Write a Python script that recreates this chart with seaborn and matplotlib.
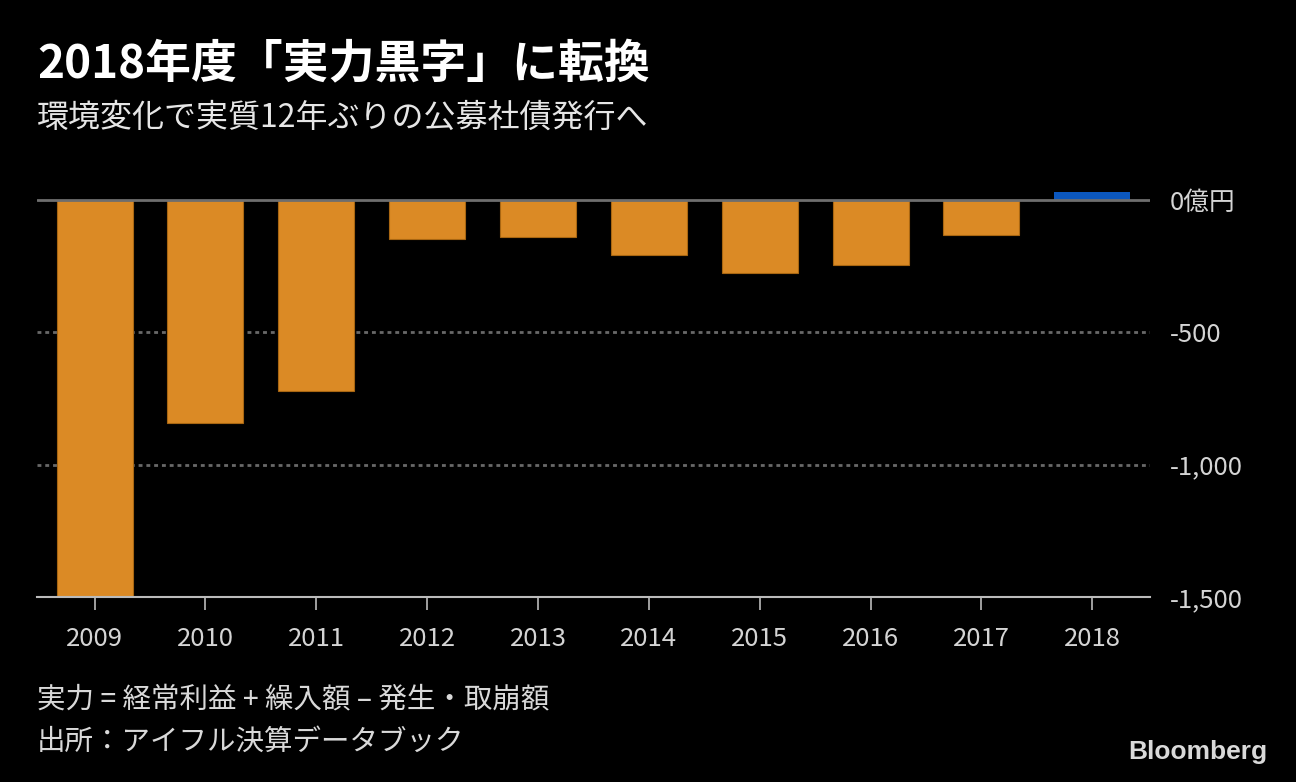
import numpy as np
import pandas as pd
import matplotlib
matplotlib.use("Agg")
import matplotlib.pyplot as plt
import seaborn as sns

# ==========================================
# Data (億円)
# ==========================================
years = ["2009", "2010", "2011", "2012", "2013", "2014", "2015", "2016", "2017", "2018"]
values = [-1500, -842, -722, -147, -140, -208, -276, -246, -132, 30]

ytick_values = [0, -500, -1000, -1500]
ytick_labels = ["0億円", "-500", "-1,000", "-1,500"]

title = "2018年度「実力黒字」に転換"
subtitle = "環境変化で実質12年ぶりの公募社債発行へ"
note1 = "実力 = 経常利益 + 繰入額 – 発生・取崩額"
note2 = "出所：アイフル決算データブック"

orange = "#db8a25"
blue = "#0b57be"

df = pd.DataFrame({"year": years, "value": values})
bar_colors = [blue if v > 0 else orange for v in values]

# ==========================================
# Style
# ==========================================
sns.set_theme(style="dark", rc={"axes.facecolor": "black", "figure.facecolor": "black"})
plt.rcParams["font.family"] = ["Noto Sans CJK JP", "DejaVu Sans"]

fig = plt.figure(figsize=(12.96, 7.82), dpi=100, facecolor="black")
ax = fig.add_axes([0.0285, 0.2366, 0.8588, 0.5524])
ax.set_facecolor("black")

# dotted gridlines
for v in [-500, -1000]:
    ax.axhline(v, color="#686868", lw=2, ls=(0, (1.4, 1.4)), zorder=0)

sns.barplot(data=df, x="year", y="value", hue="year", palette=bar_colors,
            legend=False, width=0.685, ax=ax, zorder=2, saturation=1)

# darker outline on the orange bars only
for patch, v in zip(ax.patches, values):
    if v < 0:
        patch.set_edgecolor("#a86612")
        patch.set_linewidth(0.8)
    else:
        patch.set_linewidth(0)

ax.axhline(0, color="#6e6e6e", lw=2, zorder=3)

ax.set_xlim(-0.52, 9.52)
ax.set_ylim(-1500, 132)

ax.set_yticks(ytick_values)
ax.set_yticklabels(ytick_labels)
ax.yaxis.tick_right()
ax.tick_params(axis="y", length=0, pad=14, labelsize=18.5, labelcolor="#d4d4d4")
ax.tick_params(axis="x", length=9, width=1.2, color="#bbbbbb", pad=12,
               labelsize=18.5, labelcolor="#d4d4d4", bottom=True)

ax.set_xlabel("")
ax.set_ylabel("")
ax.grid(False)
for side in ["top", "left", "right"]:
    ax.spines[side].set_visible(False)
ax.spines["bottom"].set_color("#bbbbbb")
ax.spines["bottom"].set_linewidth(1.5)

# ==========================================
# Titles and notes
# ==========================================
fig.text(0.0285, 0.916, title, color="white", fontsize=33, fontweight="bold", va="center")
fig.text(0.0285, 0.849, subtitle, color="#e6e6e6", fontsize=23, va="center")
fig.text(0.0285, 0.106, note1, color="#d9d9d9", fontsize=20.5, va="center")
fig.text(0.0285, 0.051, note2, color="#d9d9d9", fontsize=20.5, va="center")
fig.text(0.978, 0.0384, "Bloomberg", color="#d9d9d9", fontsize=19, fontweight="bold",
         family=["Liberation Sans", "DejaVu Sans"], ha="right", va="center")

fig.savefig("out.png", dpi=100, facecolor="black")
